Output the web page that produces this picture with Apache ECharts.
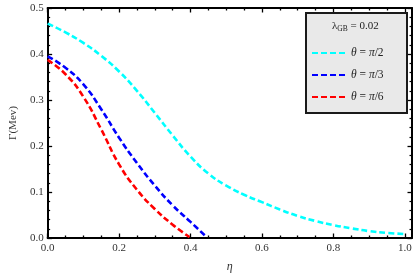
<!DOCTYPE html>
<html>
<head>
<meta charset="utf-8">
<script src="https://cdn.jsdelivr.net/npm/echarts@6/dist/echarts.min.js"></script>
<style>
html,body{margin:0;padding:0;background:#fff;}
#c{width:415px;height:278px;}
</style>
</head>
<body>
<div id="c"></div>
<script>
// ---- data ----
var etaCyan = [0,0.05,0.1,0.15,0.2,0.25,0.3,0.35,0.4,0.45,0.5,0.55,0.6,0.65,0.7,0.75,0.8,0.85,0.9,0.95,1.0];
var gammaCyan = [0.466,0.447,0.424,0.396,0.362,0.320,0.272,0.223,0.177,0.140,0.114,0.094,0.078,0.062,0.048,0.037,0.028,0.021,0.015,0.011,0.0087];
var etaBlue = [0,0.05,0.1,0.15,0.2,0.25,0.3,0.35,0.4,0.445];
var gammaBlue = [0.395,0.370,0.334,0.280,0.218,0.163,0.114,0.071,0.035,0.002];
var etaRed = [0,0.05,0.1,0.15,0.2,0.25,0.3,0.35,0.397];
var gammaRed = [0.387,0.356,0.307,0.236,0.160,0.105,0.063,0.029,0.002];
var seriesNames = ['θ = π/2','θ = π/3','θ = π/6'];
var xMajor = [0,0.2,0.4,0.6,0.8,1.0];
var xMinor = [0.05,0.1,0.15,0.25,0.3,0.35,0.45,0.5,0.55,0.65,0.7,0.75,0.85,0.9,0.95];
var legendTitle = 'λ{sub|GB}{m| = 0.02}';

function pairs(xs, ys){ return xs.map(function(x,i){ return [x, ys[i]]; }); }

var chart = echarts.init(document.getElementById('c'));
var serif = '"Liberation Serif","DejaVu Serif",serif';
var lineCol = '#000';
function xAx(pos, ticks, len, line, labels){
  return {
    type:'value', position:pos, min:0, max:1.02,
    axisLine:{show:line, onZero:false, lineStyle:{color:lineCol,width:2}},
    axisTick:{show:true, inside:true, length:len, customValues:ticks, lineStyle:{color:lineCol,width:1.3}},
    axisLabel:{show:labels, customValues:xMajor, margin:5, color:'#333', fontFamily:serif, fontSize:11,
      formatter:function(v){return v.toFixed(1);}},
    splitLine:{show:false},
    name: labels ? 'η' : '', nameLocation:'middle', nameGap:23,
    nameTextStyle:{fontFamily:serif, fontStyle:'italic', fontSize:12, color:'#333'}
  };
}
function yAx(pos, labels){
  return {
    type:'value', position:pos, min:0, max:0.5, interval:0.1,
    axisLine:{show:true, onZero:false, lineStyle:{color:lineCol,width:2}},
    axisTick:{show:true, inside:true, length:4.5, lineStyle:{color:lineCol,width:1.3}},
    minorTick:{show:true, splitNumber:5, length:2.5, lineStyle:{color:lineCol,width:1.2}},
    axisLabel:{show:labels, margin:4, color:'#333', fontFamily:serif, fontSize:11,
      formatter:function(v){return v.toFixed(1);}},
    splitLine:{show:false},
    name: labels ? 'Γ(Mev)' : '', nameLocation:'middle', nameGap:26, nameRotate:90,
    nameTextStyle:{fontFamily:serif, fontSize:11, color:'#333'}
  };
}
function ser(name, xs, ys, color){
  return {
    type:'line', name:name, data:pairs(xs,ys), smooth:0.5, showSymbol:false, symbol:'none',
    xAxisIndex:0, yAxisIndex:0,
    lineStyle:{color:color, width:2.6, type:[6,3]},
    itemStyle:{color:color}
  };
}
chart.setOption({
  animation:false,
  grid:{left:39, top:8, right:3, bottom:40},
  xAxis:[
    xAx('bottom', xMinor, 2.5, true, true),
    xAx('bottom', xMajor, 4.5, false, false),
    xAx('top', xMinor, 2.5, true, false),
    xAx('top', xMajor, 4.5, false, false)
  ],
  yAxis:[ yAx('left', true), yAx('right', false) ],
  graphic:[{
    type:'rect', left:305, top:12, z:1,
    shape:{width:101, height:100},
    style:{fill:'#e9e9e9', stroke:'#1a1a1a', lineWidth:2}
  }],
  title:{
    text:legendTitle, left:327, top:14, z:6,
    textStyle:{
      fontFamily:serif, fontSize:11, color:'#222', fontWeight:'normal',
      rich:{
        m:{fontFamily:serif, fontSize:11, color:'#222', lineHeight:14, verticalAlign:'middle'},
        sub:{fontFamily:serif, fontSize:7.5, color:'#222', lineHeight:8, verticalAlign:'bottom', padding:[4,0,0,0]}
      }
    }
  },
  legend:{
    orient:'vertical', left:305, top:12, z:6,
    padding:[35,8,10,6], itemGap:10, itemWidth:34, itemHeight:13,
    data:seriesNames,
    itemStyle:{opacity:0},
    formatter:function(n){ return n.replace('θ','{i|θ}').replace('π','{i|π}'); },
    textStyle:{fontFamily:serif, fontSize:11.5, color:'#222',
      rich:{i:{fontFamily:serif, fontSize:11.5, fontStyle:'italic', color:'#222'}}}
  },
  series:[
    ser(seriesNames[0], etaCyan, gammaCyan, '#00ffff'),
    ser(seriesNames[1], etaBlue, gammaBlue, '#0000ff'),
    ser(seriesNames[2], etaRed, gammaRed, '#ff0000')
  ]
});
</script>
</body>
</html>
